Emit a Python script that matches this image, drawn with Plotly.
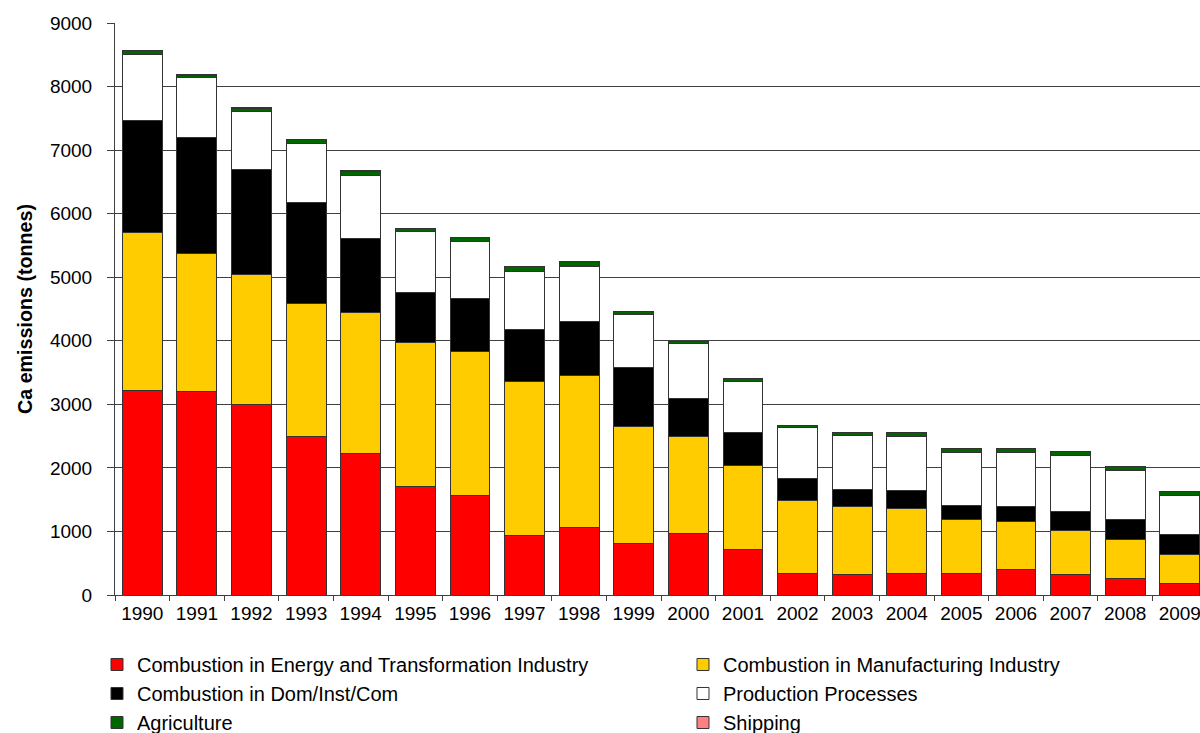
import plotly.graph_objects as go

# Annual calcium emissions by source sector (tonnes)
years = [str(y) for y in range(1990, 2010)]

energy_transformation = [3220, 3200, 3000, 2495, 2220, 1700, 1558, 942, 1063, 817,
                         960, 719, 339, 323, 339, 335, 400, 322, 257, 182]
manufacturing = [2491, 2170, 2050, 2099, 2220, 2280, 2281, 2423, 2398, 1833,
                 1540, 1321, 1151, 1067, 1029, 857, 750, 688, 615, 448]
dom_inst_com = [1754, 1830, 1650, 1586, 1170, 783, 824, 814, 839, 931,
                599, 510, 348, 271, 279, 216, 241, 298, 319, 318]
production_processes = [1035, 950, 900, 920, 995, 957, 897, 916, 875, 829,
                        856, 810, 792, 849, 843, 832, 849, 887, 764, 614]
agriculture = [60, 30, 60, 60, 65, 40, 65, 68, 67, 43,
               29, 43, 35, 45, 67, 58, 60, 65, 61, 68]
shipping = [3, 3, 3, 3, 3, 3, 3, 3, 3, 3,
            3, 3, 3, 3, 3, 3, 3, 3, 3, 3]

series = [
    ("Combustion in Energy and Transformation Industry", energy_transformation, "#FF0000", "legend"),
    ("Combustion in Manufacturing Industry", manufacturing, "#FFCC00", "legend2"),
    ("Combustion in Dom/Inst/Com", dom_inst_com, "#000000", "legend"),
    ("Production Processes", production_processes, "#FFFFFF", "legend2"),
    ("Agriculture", agriculture, "#006600", "legend"),
    ("Shipping", shipping, "#FF8080", "legend2"),
]

FONT = "Liberation Sans, Arial, sans-serif"

fig = go.Figure()
for name, values, color, leg in series:
    fig.add_trace(go.Bar(
        x=years, y=values, name=name,
        marker=dict(color=color, line=dict(color="#333333", width=1)),
        legend=leg, legendgroup=name,
    ))

legend_common = dict(
    orientation="v", xanchor="left", yanchor="top",
    font=dict(family=FONT, size=20, color="#000000"),
    bgcolor="rgba(0,0,0,0)", tracegroupgap=0, itemclick=False,
)

fig.update_layout(
    width=1200, height=733,
    margin=dict(l=115, r=0, t=23, b=138, autoexpand=False),
    barmode="stack", bargap=0.27,
    plot_bgcolor="#FFFFFF", paper_bgcolor="#FFFFFF",
    font=dict(family=FONT, size=19, color="#000000"),
    legend=dict(x=-0.0166, y=-0.0874, **legend_common),
    legend2=dict(x=0.5235, y=-0.0874, **legend_common),
    xaxis=dict(
        type="category", range=[-0.5, 19.37],
        showline=True, linecolor="#404040", linewidth=1,
        ticks="outside", tickson="boundaries", ticklen=5, tickcolor="#404040",
        showgrid=False, ticklabelstandoff=1,
        tickfont=dict(family=FONT, size=19, color="#000000"),
    ),
    yaxis=dict(
        range=[0, 9000], dtick=1000, tick0=0,
        showline=True, linecolor="#404040", linewidth=1,
        ticks="outside", ticklen=7, tickcolor="#404040",
        showgrid=True, gridcolor="#404040", gridwidth=1,
        zeroline=False, ticklabelstandoff=11,
        tickfont=dict(family=FONT, size=19, color="#000000"),
        title=dict(text="<b>Ca emissions (tonnes)</b>", standoff=12,
                   font=dict(family=FONT, size=19.7, color="#000000")),
    ),
)

fig.write_html("out.html")
